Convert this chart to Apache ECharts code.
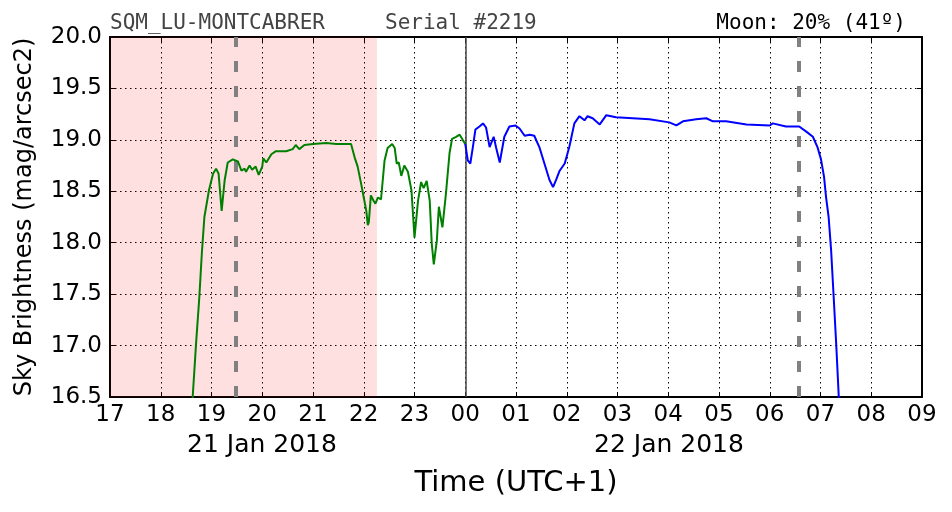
<!DOCTYPE html>
<html>
<head>
<meta charset="utf-8">
<script src="https://cdn.jsdelivr.net/npm/echarts@6/dist/echarts.min.js"></script>
<style>html,body{margin:0;padding:0;background:#fff}#c{width:952px;height:512px}</style>
</head>
<body>
<div id="c"></div>
<script>
// Hours since 00:00 on 21 Jan 2018 (UTC+1)
const greenTimes = [18.61,18.70,18.76,18.81,18.86,18.95,19.03,19.09,19.14,19.20,19.26,19.32,19.42,19.52,19.59,19.65,19.68,19.75,19.80,19.87,19.93,20.00,20.02,20.08,20.18,20.27,20.47,20.60,20.66,20.73,20.83,21.00,21.26,21.46,21.59,21.75,21.82,21.88,21.95,22.00,22.05,22.08,22.10,22.14,22.19,22.23,22.28,22.34,22.41,22.47,22.56,22.61,22.65,22.69,22.74,22.80,22.87,22.94,23.00,23.07,23.13,23.18,23.24,23.30,23.34,23.38,23.44,23.48,23.55,23.62,23.69,23.74,23.82,23.89,23.95,24.00];
const greenValues = [16.35,17.05,17.47,17.90,18.25,18.51,18.67,18.72,18.67,18.31,18.61,18.78,18.81,18.79,18.70,18.72,18.69,18.75,18.71,18.74,18.66,18.74,18.82,18.78,18.86,18.89,18.89,18.91,18.95,18.91,18.95,18.96,18.97,18.96,18.96,18.96,18.83,18.74,18.57,18.44,18.31,18.17,18.20,18.46,18.41,18.38,18.44,18.42,18.80,18.92,18.96,18.92,18.77,18.78,18.65,18.75,18.69,18.51,18.05,18.41,18.59,18.53,18.60,18.41,17.99,17.79,18.02,18.35,18.15,18.48,18.87,19.01,19.03,19.05,19.00,18.96];
const blueTimes = [24.00,24.05,24.10,24.15,24.20,24.28,24.35,24.41,24.48,24.56,24.61,24.68,24.77,24.87,24.99,25.07,25.17,25.27,25.36,25.46,25.56,25.66,25.73,25.79,25.86,25.96,26.05,26.15,26.25,26.35,26.41,26.51,26.65,26.78,26.97,27.30,27.63,28.02,28.16,28.29,28.55,28.75,28.88,29.14,29.54,30.00,30.06,30.32,30.58,30.72,30.85,30.94,31.01,31.07,31.11,31.16,31.21,31.26,31.31,31.37];
const blueValues = [18.96,18.80,18.77,18.93,19.10,19.13,19.16,19.12,18.93,19.03,18.92,18.78,19.03,19.13,19.14,19.11,19.04,19.05,19.04,18.93,18.77,18.61,18.54,18.61,18.70,18.77,18.93,19.16,19.23,19.19,19.23,19.21,19.15,19.24,19.22,19.21,19.20,19.17,19.14,19.18,19.20,19.21,19.18,19.18,19.15,19.14,19.16,19.13,19.13,19.08,19.03,18.93,18.81,18.64,18.44,18.25,17.92,17.47,17.01,16.40];
const twilightShade = [17, 22.26];
const moonLines = [19.48, 30.58];
const midnight = 24;
const xRange = [17, 33];
const yRange = [16.5, 20.0];
const dateLabels = ['21 Jan 2018', '22 Jan 2018'];
const headerLeft = 'SQM_LU-MONTCABRER';
const headerMid = 'Serial #2219';
const headerRight = 'Moon: 20% (41º)';

const zip = (a, b) => a.map((t, i) => [t, b[i]]);
const chart = echarts.init(document.getElementById('c'), null, {renderer: 'canvas'});
const F = 'DejaVu Sans';
const axisLine = {show: true, lineStyle: {color: '#000', width: 2}};
const tick = {show: true, inside: true, length: 5, lineStyle: {color: '#000', width: 1}};
const split = {show: true, lineStyle: {color: '#000', width: 1, type: [1.5, 3.5]}};

chart.setOption({
  animation: false,
  backgroundColor: '#fff',
  grid: {left: 110, right: 30, top: 37, bottom: 115},
  xAxis: [
    {type: 'value', min: xRange[0], max: xRange[1], interval: 1,
     axisLine, axisTick: tick, splitLine: split,
     axisLabel: {color: '#000', fontFamily: F, fontSize: 23, margin: 7,
       formatter: v => String(v % 24).padStart(2, '0')},
     name: 'Time (UTC+1)', nameLocation: 'middle', nameGap: 72,
     nameTextStyle: {color: '#000', fontFamily: F, fontSize: 29}},
    {type: 'value', position: 'top', min: xRange[0], max: xRange[1], interval: 1,
     axisLine, axisTick: tick, splitLine: {show: false}, axisLabel: {show: false}}
  ],
  yAxis: [
    {type: 'value', min: yRange[0], max: yRange[1], interval: 0.5,
     axisLine, axisTick: tick, splitLine: split,
     axisLabel: {color: '#000', fontFamily: F, fontSize: 23, margin: 8,
       formatter: v => v.toFixed(1)},
     name: 'Sky Brightness (mag/arcsec2)', nameLocation: 'middle', nameGap: 73,
     nameTextStyle: {color: '#000', fontFamily: F, fontSize: 24}},
    {type: 'value', position: 'right', min: yRange[0], max: yRange[1], interval: 0.5,
     axisLine, axisTick: tick, splitLine: {show: false}, axisLabel: {show: false}}
  ],
  series: [
    {type: 'line', data: zip(greenTimes, greenValues), showSymbol: false, symbol: 'none',
     lineStyle: {color: '#008000', width: 2}, z: 5, clip: true,
     markArea: {silent: true, itemStyle: {color: 'rgba(255,0,0,0.12)'},
       data: [[{xAxis: twilightShade[0]}, {xAxis: twilightShade[1]}]]},
     markLine: {silent: true, symbol: 'none', label: {show: false},
       lineStyle: {color: '#444', width: 1.5, type: 'solid'},
       data: [{xAxis: midnight}]}},
    {type: 'line', data: zip(blueTimes, blueValues), showSymbol: false, symbol: 'none',
     lineStyle: {color: '#0000ff', width: 2}, z: 5, clip: true,
     markLine: {silent: true, symbol: 'none', label: {show: false},
       lineStyle: {color: '#808080', width: 4, type: [11, 14]},
       data: moonLines.map(x => ({xAxis: x}))}}
  ],
  graphic: [
    {type: 'text', left: 110, top: 13, style: {text: headerLeft, font: '21px "DejaVu Sans Mono"', fill: '#444'}},
    {type: 'text', left: 385, top: 13, style: {text: headerMid, font: '21px "DejaVu Sans Mono"', fill: '#444'}},
    {type: 'text', right: 46, top: 13, style: {text: headerRight, font: '21px "DejaVu Sans Mono"', fill: '#000'}},
    {type: 'text', x: 262, y: 445, style: {text: dateLabels[0], font: '25px "DejaVu Sans"', fill: '#000', align: 'center', verticalAlign: 'middle'}},
    {type: 'text', x: 669, y: 445, style: {text: dateLabels[1], font: '25px "DejaVu Sans"', fill: '#000', align: 'center', verticalAlign: 'middle'}}
  ]
});
</script>
</body>
</html>
